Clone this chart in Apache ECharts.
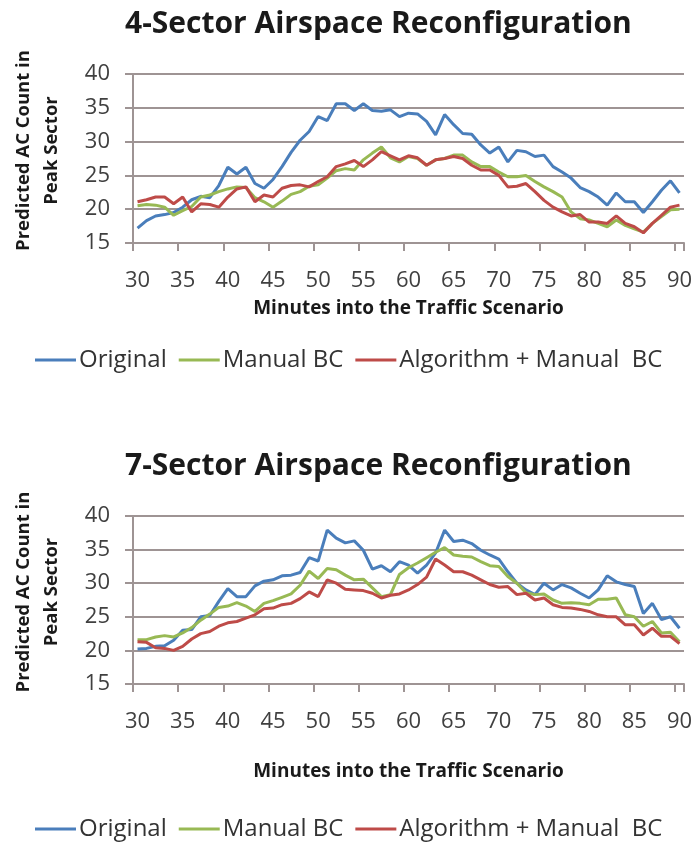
<!DOCTYPE html>
<html><head><meta charset="utf-8">
<script src="https://cdn.jsdelivr.net/npm/echarts@6/dist/echarts.min.js"></script>
<style>html,body{margin:0;padding:0;background:#fff}#c{width:692px;height:844px}</style>
</head><body><div id="c"></div>
<script>
const minutes = [];
for (let m = 30; m <= 90; m++) minutes.push(String(m));
const seriesNames = ['Original', 'Manual BC', 'Algorithm + Manual  BC'];
const titles = ['4-Sector Airspace Reconfiguration', '7-Sector Airspace Reconfiguration'];
const yTitle = 'Predicted AC Count in\nPeak Sector';
const xTitle = 'Minutes into the Traffic Scenario';

// 4-sector panel (minutes 30..90)
const top_original = [17.2,18.3,19.0,19.2,19.5,20.3,21.4,21.9,21.7,23.5,26.2,25.2,26.2,23.8,23.1,24.4,26.3,28.4,30.2,31.5,33.7,33.1,35.6,35.6,34.6,35.6,34.6,34.5,34.7,33.7,34.2,34.1,33.0,31.0,34.0,32.5,31.2,31.1,29.5,28.3,29.2,27.0,28.7,28.5,27.8,28.0,26.3,25.5,24.6,23.2,22.6,21.8,20.6,22.4,21.1,21.1,19.5,21.1,22.8,24.2,22.4];
const top_manual = [20.5,20.7,20.6,20.3,19.1,19.8,20.4,21.8,22.1,22.6,23.0,23.3,23.2,21.7,21.1,20.3,21.2,22.2,22.6,23.4,23.6,24.6,25.7,26.0,25.8,27.3,28.3,29.2,27.6,27.0,27.8,27.5,26.5,27.3,27.5,28.0,28.0,27.0,26.3,26.3,25.5,24.8,24.8,25.0,24.1,23.3,22.6,21.8,19.6,18.6,18.4,17.9,17.4,18.4,17.6,17.1,16.6,17.9,18.9,19.9,20.0];
const top_algo = [21.1,21.4,21.8,21.8,20.8,21.8,19.6,20.8,20.7,20.3,21.8,23.0,23.3,21.1,22.1,21.8,23.1,23.5,23.6,23.3,24.1,24.8,26.3,26.7,27.2,26.3,27.3,28.5,27.9,27.3,27.9,27.6,26.5,27.3,27.5,27.8,27.5,26.5,25.8,25.8,25.0,23.3,23.4,23.8,22.6,21.3,20.3,19.6,19.0,19.2,18.1,18.1,17.9,19.0,17.9,17.4,16.5,17.9,19.1,20.3,20.6];

// 7-sector panel (minutes 30..90)
const bot_original = [20.2,20.3,20.6,20.7,21.5,23.0,23.1,25.0,25.2,27.3,29.2,28.0,28.0,29.6,30.3,30.5,31.1,31.2,31.6,33.8,33.3,37.9,36.7,36.0,36.3,34.9,32.1,32.6,31.7,33.2,32.7,31.5,32.7,34.5,37.9,36.2,36.4,35.9,34.9,34.2,33.6,31.7,30.0,29.0,28.3,30.0,29.0,29.8,29.3,28.5,27.8,29.0,31.1,30.2,29.8,29.5,25.5,27.0,24.6,25.0,23.3];
const bot_manual = [21.6,21.6,22.0,22.2,22.0,22.6,23.4,24.5,25.4,26.4,26.6,27.1,26.6,25.8,27.0,27.4,27.9,28.4,29.7,31.8,30.7,32.2,32.0,31.2,30.5,30.6,29.3,28.0,28.3,31.3,32.3,33.0,33.8,34.6,35.3,34.2,34.0,33.9,33.2,32.6,32.5,31.0,30.0,28.6,28.3,28.4,27.5,27.0,27.1,27.0,26.8,27.6,27.6,27.8,25.3,25.0,23.6,24.3,22.6,22.7,21.3];
const bot_algo = [21.3,21.2,20.4,20.3,20.0,20.6,21.7,22.5,22.8,23.6,24.1,24.3,24.8,25.3,26.2,26.3,26.8,27.0,27.7,28.7,28.0,30.5,30.0,29.1,29.0,28.9,28.5,27.8,28.2,28.4,29.0,29.8,30.9,33.6,32.7,31.7,31.7,31.2,30.5,29.8,29.4,29.5,28.3,28.5,27.5,27.8,26.8,26.4,26.3,26.1,25.8,25.3,25.0,25.0,23.8,23.8,22.3,23.3,22.1,22.1,21.0];

const colors = ['#4a7ebb', '#98b954', '#be4b48'];
const FONT = 'Open Sans';
const gridCol = '#9e9494';

function xAxis(gi, gap) {
  return {
    type: 'category', gridIndex: gi, data: minutes, boundaryGap: true,
    axisLine: { show: true, lineStyle: { color: gridCol, width: 2 } },
    axisTick: { show: true, interval: 4, length: 8, lineStyle: { color: gridCol, width: 2 } },
    axisLabel: { interval: 4, fontFamily: FONT, fontSize: 22, color: '#404040', margin: 27 },
    name: xTitle, nameLocation: 'middle', nameGap: gap,
    nameTextStyle: { fontFamily: FONT, fontSize: 19, fontWeight: 'bold', color: '#1a1a1a' }
  };
}
function yAxis(gi) {
  return {
    type: 'value', gridIndex: gi, min: 15, max: 40, interval: 5,
    axisLine: { show: true, lineStyle: { color: gridCol, width: 2 } },
    axisTick: { show: true, length: 8, lineStyle: { color: gridCol, width: 2 } },
    splitLine: { show: true, lineStyle: { color: gridCol, width: 2 } },
    axisLabel: { fontFamily: FONT, fontSize: 22, color: '#404040', margin: 23 },
    name: yTitle, nameLocation: 'middle', nameGap: 67, nameRotate: 90,
    nameTextStyle: { fontFamily: FONT, fontSize: 18.5, fontWeight: 'bold', color: '#1a1a1a', lineHeight: 28, padding: [0, 0, 0, 16] }
  };
}
function line(name, data, gi, ci) {
  return {
    type: 'line', name: name, data: data, xAxisIndex: gi, yAxisIndex: gi,
    showSymbol: false, symbol: 'none', smooth: false,
    lineStyle: { color: colors[ci], width: 3 }, itemStyle: { color: colors[ci] },
    animation: false
  };
}
function legend(top) {
  return {
    data: seriesNames, top: top, left: 30, itemWidth: 41, itemHeight: 3, itemGap: 12,
    icon: 'rect',
    textStyle: { fontFamily: FONT, fontSize: 24, color: '#333', padding: [0, 0, 0, -2] }
  };
}

const chart = echarts.init(document.getElementById('c'), null, { renderer: 'canvas' });
chart.setOption({
  animation: false,
  backgroundColor: '#fff',
  title: [
    { text: titles[0], left: 120, top: 4, textStyle: { fontFamily: FONT, fontSize: 30, fontWeight: 'bold', color: '#1a1a1a' } },
    { text: titles[1], left: 120, top: 446, textStyle: { fontFamily: FONT, fontSize: 30, fontWeight: 'bold', color: '#1a1a1a' } }
  ],
  legend: [legend(343), legend(812)],
  grid: [
    { left: 133, top: 74, width: 551, height: 169, outerBoundsMode: 'none', containLabel: false },
    { left: 133, top: 516, width: 551, height: 168, outerBoundsMode: 'none', containLabel: false }
  ],
  xAxis: [xAxis(0, 56), xAxis(1, 78)],
  yAxis: [yAxis(0), yAxis(1)],
  series: [
    line(seriesNames[0], top_original, 0, 0),
    line(seriesNames[1], top_manual, 0, 1),
    line(seriesNames[2], top_algo, 0, 2),
    line(seriesNames[0], bot_original, 1, 0),
    line(seriesNames[1], bot_manual, 1, 1),
    line(seriesNames[2], bot_algo, 1, 2)
  ]
});
</script></body></html>
